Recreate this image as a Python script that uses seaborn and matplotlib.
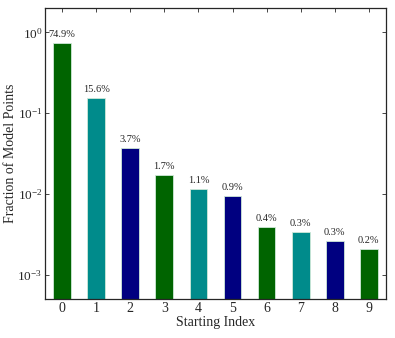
import numpy as np
import pandas as pd
import seaborn as sns
import matplotlib
matplotlib.use("Agg")
import matplotlib.pyplot as plt
from matplotlib.ticker import NullLocator

# Dados
startIndex = [0, 1, 2, 3, 4, 5, 6, 7, 8, 9]
fraction = [0.749, 0.156, 0.037, 0.017, 0.0114, 0.0094, 0.0039, 0.0034, 0.0026, 0.0021]
barLabels = ["74.9%", "15.6%", "3.7%", "1.7%", "1.1%", "0.9%", "0.4%", "0.3%", "0.3%", "0.2%"]
barColors = ["darkgreen", "darkcyan", "navy"]

sns.set_style("ticks")
plt.rcParams['font.family'] = ['Liberation Serif', 'DejaVu Serif']
plt.rcParams['mathtext.fontset'] = 'stix'

df = pd.DataFrame({'idx': startIndex, 'frac': fraction})
palette = [barColors[i % 3] for i in startIndex]

fig = plt.figure(figsize=(3.95, 3.38), dpi=100)
ax = fig.add_axes([0.114, 0.115, 0.863, 0.861])
ax.set_yscale('log')
sns.barplot(data=df, x='idx', y='frac', hue='idx', palette=palette, legend=False,
            saturation=1, width=0.52, ax=ax, edgecolor='#cfe8d8', linewidth=0.6)

for i, (v, lab) in enumerate(zip(fraction, barLabels)):
    ax.text(i, v * 1.12, lab, ha='center', va='bottom', fontsize=7.5)

ax.set_ylim(5e-4, 2.0)
ax.set_xlim(-0.5, 9.5)
ax.yaxis.set_minor_locator(NullLocator())
ax.tick_params(direction='in', top=True, right=True, labelsize=10, length=3, width=0.6, pad=2)
ax.tick_params(axis='y', labelsize=9.5)
for s in ax.spines.values():
    s.set_linewidth(0.9)
ax.set_xlabel("Starting Index", fontsize=10, labelpad=1)
ax.set_ylabel("Fraction of Model Points", fontsize=10, labelpad=0)

plt.savefig("out.png", dpi=100)
